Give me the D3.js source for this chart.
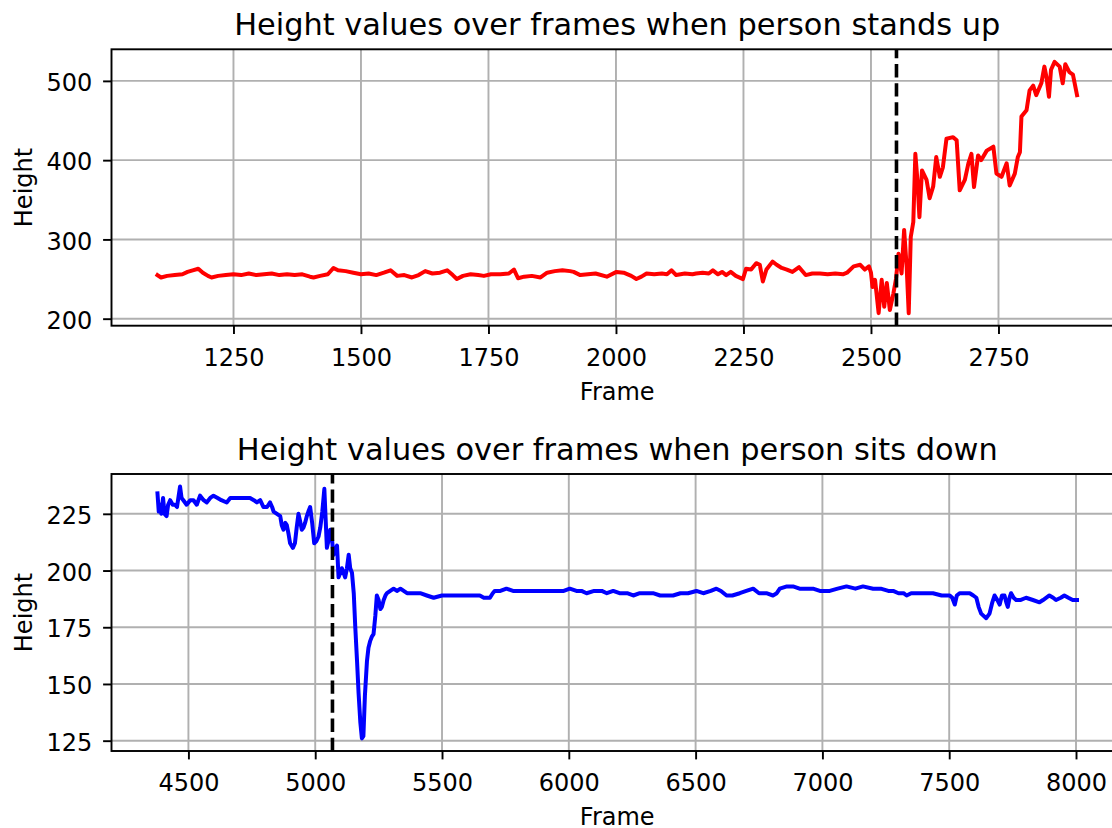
<!DOCTYPE html>
<html>
<head>
<meta charset="utf-8">
<script src="https://cdn.jsdelivr.net/npm/d3@7"></script>
<style>
  body { margin: 0; background: #fff; }
  svg { display: block; font-family: "DejaVu Sans", sans-serif; }
</style>
</head>
<body>
<svg id="chart" width="1112" height="828"></svg>
<script>
// stand up series
const standFrames = [
  1101, 1108, 1120, 1135, 1150, 1160, 1170, 1181, 1190, 1200, 1207, 1220, 1235, 1250, 1265,
  1280, 1295, 1310, 1325, 1340, 1355, 1370, 1385, 1400, 1407, 1420, 1435, 1446, 1455, 1470,
  1485, 1500, 1515, 1530, 1545, 1558, 1571, 1585, 1600, 1613, 1626, 1640, 1655, 1669, 1680,
  1688, 1700, 1715, 1730, 1741, 1755, 1773, 1790, 1800, 1808, 1820, 1835, 1852, 1865, 1880,
  1895, 1910, 1917, 1930, 1945, 1960, 1982, 2001, 2015, 2030, 2040, 2050, 2060, 2075, 2090,
  2100, 2109, 2118, 2135, 2150, 2157, 2170, 2182, 2190, 2200, 2208, 2216, 2225, 2235, 2249,
  2255, 2265, 2275, 2282, 2288, 2295, 2307, 2315, 2325, 2335, 2346, 2359, 2372, 2385, 2400,
  2415, 2430, 2445, 2453, 2466, 2479, 2488, 2496, 2500, 2503, 2508, 2515, 2521, 2526, 2531,
  2537, 2544, 2549, 2554, 2560, 2565, 2570, 2574, 2578, 2583, 2587, 2591, 2595, 2600, 2609,
  2615, 2622, 2628, 2635, 2641, 2648, 2661, 2668, 2674, 2684, 2691, 2697, 2702, 2710, 2716,
  2727, 2740, 2746, 2756, 2766, 2772, 2782, 2788, 2792, 2795, 2805, 2811, 2818, 2824, 2834,
  2840, 2844, 2849, 2853, 2860, 2870, 2876, 2881, 2889, 2896, 2904
];
const standHeights = [
  255, 252, 254, 255, 256, 259, 261, 263, 258, 254, 252, 254, 255, 256, 255,
  257, 255, 256, 257, 255, 256, 255, 256, 253, 252, 254, 256, 264, 261, 260,
  258, 256, 257, 255, 258, 261, 254, 255, 252, 255, 260, 257, 258, 261, 255,
  250, 254, 256, 255, 254, 256, 256, 257, 262, 251, 253, 254, 252, 258, 260,
  261, 260, 259, 255, 256, 257, 253, 259, 258, 254, 250, 253, 257, 256, 257,
  256, 261, 255, 257, 256, 257, 258, 257, 261, 256, 259, 255, 259, 254, 250,
  263, 262, 270, 268, 247, 262, 272, 268, 264, 262, 259, 265, 255, 257, 257,
  256, 257, 256, 258, 266, 268, 262, 266, 258, 240, 249, 207, 249, 215, 245,
  211, 232, 250, 282, 257, 312, 265, 207, 303, 322, 408, 375, 328, 387, 375,
  352, 367, 404, 379, 391, 427, 429, 425, 362, 375, 396, 408, 366, 406, 400,
  412, 417, 383, 379, 396, 368, 383, 404, 410, 455, 463, 488, 494, 482, 497,
  518, 505, 480, 514, 524, 518, 497, 521, 511, 508, 482
];
const standEvent = 2550;
const standXTicks = [1250, 1500, 1750, 2000, 2250, 2500, 2750];
const standYTicks = [200, 300, 400, 500];

// sit down series
const sitFrames = [
  4378, 4383, 4388, 4393, 4400, 4406, 4414, 4420, 4428, 4438, 4447, 4455, 4467, 4473, 4480,
  4493, 4507, 4520, 4533, 4546, 4560, 4572, 4586, 4599, 4615, 4630, 4651, 4665, 4678, 4700,
  4720, 4743, 4758, 4770, 4783, 4796, 4810, 4822, 4830, 4836, 4849, 4862, 4868, 4875, 4882,
  4888, 4895, 4901, 4912, 4920, 4927, 4934, 4940, 4947, 4954, 4960, 4967, 4973, 4980, 4988,
  4996, 5005, 5013, 5020, 5028, 5036, 5041, 5046, 5052, 5059, 5066, 5072, 5079, 5086, 5092,
  5099, 5105, 5112, 5118, 5125, 5132, 5138, 5145, 5152, 5158, 5165, 5171, 5178, 5184, 5190,
  5196, 5204, 5210, 5217, 5224, 5230, 5237, 5243, 5250, 5257, 5263, 5270, 5277, 5283, 5296,
  5309, 5322, 5336, 5349, 5362, 5388, 5414, 5440, 5467, 5500, 5530, 5560, 5599, 5630, 5649,
  5665, 5678, 5689, 5700, 5708, 5730, 5754, 5780, 5810, 5840, 5870, 5900, 5930, 5960, 5980,
  6004, 6030, 6050, 6070, 6100, 6130, 6150, 6175, 6200, 6230, 6254, 6280, 6300, 6332, 6360,
  6390, 6411, 6440, 6470, 6503, 6530, 6560, 6582, 6600, 6622, 6645, 6674, 6700, 6727, 6750,
  6779, 6805, 6820, 6832, 6860, 6884, 6910, 6940, 6963, 6990, 7004, 7029, 7060, 7095, 7130,
  7160, 7200, 7230, 7260, 7279, 7300, 7320, 7332, 7350, 7384, 7410, 7436, 7470, 7502, 7512,
  7522, 7530, 7541, 7560, 7581, 7595, 7607, 7616, 7626, 7646, 7659, 7670, 7679, 7690, 7699,
  7708, 7718, 7725, 7731, 7738, 7744, 7754, 7764, 7780, 7803, 7830, 7856, 7870, 7895, 7910,
  7921, 7940, 7954, 7970, 7987, 8004
];
const sitHeights = [
  234, 226, 229, 225, 232, 225, 224, 229, 231, 229, 229, 228, 237, 232, 231,
  229, 231, 231, 229, 233, 231, 230, 232, 233, 232, 231, 230, 232, 232, 232,
  232, 232, 231, 230, 231, 228, 228, 230, 228, 226, 225, 224, 220, 218, 221,
  220, 216, 212, 210, 212, 219, 225, 222, 218, 219, 221, 224, 226, 228, 221,
  212, 213, 215, 219, 226, 236, 223, 210, 213, 218, 214, 207, 209, 211, 197,
  199, 201, 199, 197, 201, 207, 201, 199, 190, 175, 160, 146, 133, 126, 127,
  145, 160, 166, 169, 171, 172, 180, 189, 187, 183, 184, 187, 189, 190, 191,
  192, 191, 192, 191, 190, 190, 190, 189, 188, 189, 189, 189, 189, 189, 189,
  188, 188, 188, 190, 191, 191, 192, 191, 191, 191, 191, 191, 191, 191, 191,
  192, 191, 191, 190, 191, 191, 190, 191, 190, 190, 189, 190, 190, 190, 189,
  189, 189, 190, 190, 191, 190, 191, 192, 191, 189, 189, 190, 191, 192, 190,
  190, 189, 190, 192, 193, 193, 192, 192, 192, 191, 191, 191, 192, 193, 192,
  193, 192, 192, 191, 191, 190, 190, 189, 190, 190, 190, 190, 189, 189, 188,
  185, 189, 190, 190, 190, 189, 188, 184, 181, 179, 181, 186, 189, 187, 185,
  189, 189, 186, 184, 188, 190, 188, 187, 187, 188, 187, 186, 187, 189, 188,
  187, 188, 189, 188, 187, 187
];
const sitEvent = 5068;
const sitXTicks = [4500, 5000, 5500, 6000, 6500, 7000, 7500, 8000];
const sitYTicks = [125, 150, 175, 200, 225];

const svg = d3.select('#chart');

// matplotlib-like 5% margins around the data
const padded = vals => {
  let ext = d3.extent(vals);
  let m = (ext[1] - ext[0]) * 0.05;
  return [ext[0] - m, ext[1] + m];
};

const drawPanel = (opts) => {
  let g, x, y, pts, clipId;
  x = d3.scaleLinear().domain(padded(opts.frames)).range([opts.left, opts.right]);
  y = d3.scaleLinear().domain(padded(opts.heights)).range([opts.bottom, opts.top]);
  g = svg.append('g');
  clipId = 'clip-' + opts.name;

  g.append('clipPath').attr('id', clipId)
    .append('rect')
    .attr('x', opts.left).attr('y', opts.top)
    .attr('width', opts.right - opts.left).attr('height', opts.bottom - opts.top);

  // grid
  g.append('g').selectAll('line').data(opts.xTicks).join('line')
    .attr('x1', d => x(d)).attr('x2', d => x(d))
    .attr('y1', opts.top).attr('y2', opts.bottom)
    .attr('stroke', '#b0b0b0').attr('stroke-width', 1.92);
  g.append('g').selectAll('line').data(opts.yTicks).join('line')
    .attr('x1', opts.left).attr('x2', opts.right)
    .attr('y1', d => y(d)).attr('y2', d => y(d))
    .attr('stroke', '#b0b0b0').attr('stroke-width', 1.92);

  pts = opts.frames.map((f, i) => [f, opts.heights[i]]);
  g.append('path')
    .datum(pts)
    .attr('clip-path', 'url(#' + clipId + ')')
    .attr('d', d3.line().x(d => x(d[0])).y(d => y(d[1])))
    .attr('fill', 'none')
    .attr('stroke', opts.color)
    .attr('stroke-width', 4)
    .attr('stroke-linejoin', 'round')
    .attr('stroke-linecap', 'square');

  // event marker, dash pattern starts at the bottom like axvline
  g.append('line')
    .attr('x1', x(opts.event)).attr('x2', x(opts.event))
    .attr('y1', opts.bottom).attr('y2', opts.top)
    .attr('stroke', '#000').attr('stroke-width', 3.6)
    .attr('stroke-dasharray', '13.3,5.8');

  // frame
  g.append('rect')
    .attr('x', opts.left).attr('y', opts.top)
    .attr('width', opts.right - opts.left).attr('height', opts.bottom - opts.top)
    .attr('fill', 'none').attr('stroke', '#000').attr('stroke-width', 1.92);

  let xa = g.append('g')
    .attr('transform', 'translate(0,' + opts.bottom + ')')
    .call(d3.axisBottom(x).tickValues(opts.xTicks).tickSize(8.4).tickPadding(14.6).tickFormat(d3.format('d')));
  let ya = g.append('g')
    .attr('transform', 'translate(' + opts.left + ',0)')
    .call(d3.axisLeft(y).tickValues(opts.yTicks).tickSize(8.4).tickPadding(10.8).tickFormat(d3.format('d')));
  [xa, ya].forEach(a => {
    a.select('.domain').remove();
    a.selectAll('.tick line').attr('stroke', '#000').attr('stroke-width', 1.92);
    a.selectAll('.tick text')
      .attr('fill', '#000')
      .style('font-family', '"DejaVu Sans", sans-serif')
      .style('font-size', '24px');
  });
  ya.selectAll('.tick text').attr('dy', '0.4em');

  g.append('text')
    .attr('x', (opts.left + opts.right) / 2).attr('y', opts.top - 14.4)
    .attr('text-anchor', 'middle')
    .style('font-size', '30.4px')
    .text(opts.title);
  g.append('text')
    .attr('x', (opts.left + opts.right) / 2).attr('y', opts.bottom + 74)
    .attr('text-anchor', 'middle')
    .style('font-size', '24px')
    .text('Frame');
  g.append('text')
    .attr('transform', 'translate(31.5,' + (opts.top + opts.bottom) / 2 + ') rotate(-90)')
    .attr('text-anchor', 'middle')
    .style('font-size', '24px')
    .text('Height');
};

drawPanel({
  name: 'stand',
  frames: standFrames, heights: standHeights, event: standEvent,
  xTicks: standXTicks, yTicks: standYTicks, color: '#ff0000',
  left: 111.5, right: 1123, top: 49.3, bottom: 325.7,
  title: 'Height values over frames when person stands up'
});
drawPanel({
  name: 'sit',
  frames: sitFrames, heights: sitHeights, event: sitEvent,
  xTicks: sitXTicks, yTicks: sitYTicks, color: '#0000ff',
  left: 111.5, right: 1123, top: 474, bottom: 751,
  title: 'Height values over frames when person sits down'
});
</script>
</body>
</html>
